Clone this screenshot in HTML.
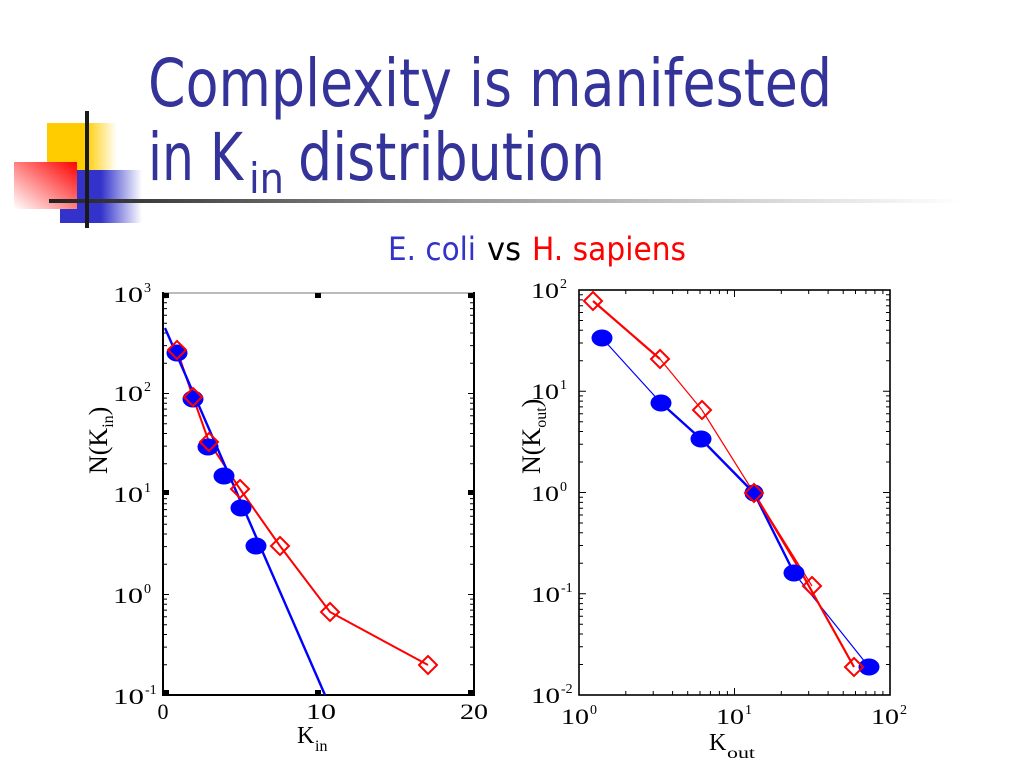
<!DOCTYPE html>
<html>
<head>
<meta charset="utf-8">
<style>
html,body{margin:0;padding:0;background:#fff;}
svg{display:block;}
</style>
</head>
<body>
<svg width="1024" height="768" viewBox="0 0 1024 768" xmlns="http://www.w3.org/2000/svg">
<defs>
  <linearGradient id="gy" x1="0" y1="0" x2="1" y2="0">
    <stop offset="0" stop-color="#ffcc00"/>
    <stop offset="0.55" stop-color="#ffcc00"/>
    <stop offset="1" stop-color="#ffcc00" stop-opacity="0"/>
  </linearGradient>
  <linearGradient id="gb" x1="0" y1="0" x2="1" y2="0">
    <stop offset="0" stop-color="#3333cc"/>
    <stop offset="0.5" stop-color="#3333cc"/>
    <stop offset="1" stop-color="#3333cc" stop-opacity="0"/>
  </linearGradient>
  <linearGradient id="gr" x1="1" y1="0" x2="0" y2="1">
    <stop offset="0" stop-color="#ff0000"/>
    <stop offset="0.5" stop-color="#ff8080"/>
    <stop offset="1" stop-color="#ffffff"/>
  </linearGradient>
  <linearGradient id="gl" x1="0" y1="0" x2="1" y2="0">
    <stop offset="0" stop-color="#222"/>
    <stop offset="0.45" stop-color="#999"/>
    <stop offset="0.85" stop-color="#e4e4e4"/>
    <stop offset="1" stop-color="#fff"/>
  </linearGradient>
</defs>

<!-- decoration -->
<rect x="47" y="123" width="70" height="47" fill="url(#gy)"/>
<rect x="60" y="170" width="82" height="53" fill="url(#gb)"/>
<rect x="14" y="162" width="63" height="47" fill="url(#gr)"/>
<rect x="49" y="199" width="915" height="4" fill="url(#gl)"/>
<rect x="85" y="111" width="4" height="117" fill="#1a1a1a"/>

<!-- title -->
<g font-family="'DejaVu Sans','Liberation Sans',sans-serif" fill="#333399">
  <text x="148" y="106" font-size="66" textLength="684" lengthAdjust="spacingAndGlyphs">Complexity is manifested</text>
  <text x="148" y="180" font-size="66" textLength="95" lengthAdjust="spacingAndGlyphs">in K</text>
  <text x="249" y="193" font-size="42" textLength="35" lengthAdjust="spacingAndGlyphs">in</text>
  <text x="298" y="180" font-size="66" textLength="307" lengthAdjust="spacingAndGlyphs">distribution</text>
</g>

<!-- subtitle -->
<g font-family="'DejaVu Sans','Liberation Sans',sans-serif" font-size="32">
  <text x="388" y="260" fill="#3333cc" textLength="88" lengthAdjust="spacingAndGlyphs">E. coli</text>
  <text x="487" y="260" fill="#000" textLength="34" lengthAdjust="spacingAndGlyphs">vs</text>
  <text x="532" y="260" fill="#ff0000" textLength="154" lengthAdjust="spacingAndGlyphs">H. sapiens</text>
</g>

<!-- ================= LEFT PLOT ================= -->
<g>
  <line x1="163" y1="293" x2="474" y2="293" stroke="#777" stroke-width="1"/>
  <line x1="163" y1="292" x2="163" y2="696" stroke="#000" stroke-width="2"/>
  <line x1="474" y1="292" x2="474" y2="696" stroke="#000" stroke-width="2"/>
  <line x1="162" y1="695" x2="475" y2="695" stroke="#000" stroke-width="2"/>
  <path stroke="#000" stroke-width="1" fill="none" d="
  M163 664.7h4M163 647.1h4M163 634.5h4M163 624.8h4M163 616.8h4M163 610.1h4M163 604.2h4M163 599.1h4
  M163 564.2h4M163 546.6h4M163 534.0h4M163 524.3h4M163 516.3h4M163 509.6h4M163 503.7h4M163 498.6h4
  M163 463.7h4M163 446.1h4M163 433.5h4M163 423.8h4M163 415.8h4M163 409.1h4M163 403.2h4M163 398.1h4
  M163 363.2h4M163 345.6h4M163 333.0h4M163 323.3h4M163 315.3h4M163 308.6h4M163 302.7h4M163 297.6h4
  M474 664.7h-4M474 647.1h-4M474 634.5h-4M474 624.8h-4M474 616.8h-4M474 610.1h-4M474 604.2h-4M474 599.1h-4
  M474 564.2h-4M474 546.6h-4M474 534.0h-4M474 524.3h-4M474 516.3h-4M474 509.6h-4M474 503.7h-4M474 498.6h-4
  M474 463.7h-4M474 446.1h-4M474 433.5h-4M474 423.8h-4M474 415.8h-4M474 409.1h-4M474 403.2h-4M474 398.1h-4
  M474 363.2h-4M474 345.6h-4M474 333.0h-4M474 323.3h-4M474 315.3h-4M474 308.6h-4M474 302.7h-4M474 297.6h-4
  M163 594.5h6M163 393.5h6M474 594.5h-6M474 393.5h-6"/>
  <g fill="#000">
    <rect x="163" y="293" width="6" height="5"/>
    <rect x="315" y="293" width="6" height="5"/>
    <rect x="468" y="293" width="6" height="5"/>
    <rect x="163" y="490" width="6" height="5"/>
    <rect x="468" y="490" width="6" height="5"/>
    <rect x="163" y="690" width="6" height="5"/>
    <rect x="315" y="690" width="6" height="5"/>
    <rect x="468" y="690" width="6" height="5"/>
  </g>
  <g font-family="'Liberation Serif',serif" fill="#000">
    <text x="113" y="302" font-size="22" textLength="30" lengthAdjust="spacingAndGlyphs">10</text>
    <text x="144" y="292" font-size="14">3</text>
    <text x="113" y="401" font-size="22" textLength="30" lengthAdjust="spacingAndGlyphs">10</text>
    <text x="144" y="391" font-size="14">2</text>
    <text x="113" y="502" font-size="22" textLength="30" lengthAdjust="spacingAndGlyphs">10</text>
    <text x="144" y="492" font-size="14">1</text>
    <text x="113" y="603" font-size="22" textLength="30" lengthAdjust="spacingAndGlyphs">10</text>
    <text x="144" y="593" font-size="14">0</text>
    <text x="113" y="704" font-size="22" textLength="31" lengthAdjust="spacingAndGlyphs">10</text>
    <text x="145" y="694" font-size="14">-1</text>
    <text x="163" y="719" font-size="22" text-anchor="middle">0</text>
    <text x="321" y="719" font-size="22" text-anchor="middle" textLength="30" lengthAdjust="spacingAndGlyphs">10</text>
    <text x="474" y="719" font-size="22" text-anchor="middle" textLength="28" lengthAdjust="spacingAndGlyphs">20</text>
    <text x="297" y="743" font-size="24">K</text>
    <text x="315" y="751" font-size="16">in</text>
    <text transform="translate(107,474) rotate(-90)" font-size="26">N(K<tspan font-size="16" dy="6">in</tspan><tspan dy="-6">)</tspan></text>
  </g>
  <polyline fill="none" stroke="#ff0000" stroke-width="2" points="177,350 193,397 209,442 240,489 280,546 330,612 428,665"/>
  <line x1="165" y1="328" x2="325" y2="695" stroke="#0000ff" stroke-width="2.4"/>
  <g fill="#0000ff">
    <ellipse cx="177" cy="353" rx="10.5" ry="8.5"/>
    <ellipse cx="193" cy="399" rx="10.5" ry="8.5"/>
    <ellipse cx="208" cy="447" rx="10.5" ry="8.5"/>
    <ellipse cx="224" cy="476" rx="10.5" ry="8.5"/>
    <ellipse cx="241" cy="508" rx="10.5" ry="8.5"/>
    <ellipse cx="256" cy="546" rx="10.5" ry="8.5"/>
  </g>
  <g fill="none" stroke="#ff0000" stroke-width="2">
    <polygon points="177,341 186,350 177,359 168,350"/>
    <polygon points="193,388 202,397 193,406 184,397"/>
    <polygon points="209,433 218,442 209,451 200,442"/>
    <polygon points="240,480 249,489 240,498 231,489"/>
    <polygon points="280,537 289,546 280,555 271,546"/>
    <polygon points="330,603 339,612 330,621 321,612"/>
    <polygon points="428,656 437,665 428,674 419,665"/>
  </g>
</g>

<!-- ================= RIGHT PLOT ================= -->
<g>
  <rect x="579" y="290" width="311" height="405" fill="none" stroke="#000" stroke-width="1.6"/>
  <path stroke="#000" stroke-width="1" fill="none" d="
  M579 664.5h4M579 646.7h4M579 634.0h4M579 624.2h4M579 616.2h4M579 609.4h4M579 603.6h4M579 598.4h4
  M579 563.3h4M579 545.5h4M579 532.8h4M579 523.0h4M579 515.0h4M579 508.2h4M579 502.4h4M579 497.2h4
  M579 462.0h4M579 444.2h4M579 431.5h4M579 421.7h4M579 413.7h4M579 406.9h4M579 401.1h4M579 395.9h4
  M579 360.8h4M579 343.0h4M579 330.3h4M579 320.5h4M579 312.5h4M579 305.7h4M579 299.9h4M579 294.7h4
  M890 664.5h-4M890 646.7h-4M890 634.0h-4M890 624.2h-4M890 616.2h-4M890 609.4h-4M890 603.6h-4M890 598.4h-4
  M890 563.3h-4M890 545.5h-4M890 532.8h-4M890 523.0h-4M890 515.0h-4M890 508.2h-4M890 502.4h-4M890 497.2h-4
  M890 462.0h-4M890 444.2h-4M890 431.5h-4M890 421.7h-4M890 413.7h-4M890 406.9h-4M890 401.1h-4M890 395.9h-4
  M890 360.8h-4M890 343.0h-4M890 330.3h-4M890 320.5h-4M890 312.5h-4M890 305.7h-4M890 299.9h-4M890 294.7h-4
  M579 593.75h7M579 492.5h7M579 391.25h7M890 593.75h-7M890 492.5h-7M890 391.25h-7
  M625.8 695v-4M653.2 695v-4M672.6 695v-4M687.7 695v-4M700.0 695v-4M710.4 695v-4M719.4 695v-4M727.4 695v-4
  M781.3 695v-4M808.7 695v-4M828.1 695v-4M843.2 695v-4M855.5 695v-4M865.9 695v-4M874.9 695v-4M882.9 695v-4
  M625.8 290v4M653.2 290v4M672.6 290v4M687.7 290v4M700.0 290v4M710.4 290v4M719.4 290v4M727.4 290v4
  M781.3 290v4M808.7 290v4M828.1 290v4M843.2 290v4M855.5 290v4M865.9 290v4M874.9 290v4M882.9 290v4
  M734.5 695v-7M734.5 290v7"/>
  <g font-family="'Liberation Serif',serif" fill="#000">
    <text x="531" y="298" font-size="22" textLength="28" lengthAdjust="spacingAndGlyphs">10</text>
    <text x="560" y="288" font-size="14">2</text>
    <text x="531" y="399" font-size="22" textLength="28" lengthAdjust="spacingAndGlyphs">10</text>
    <text x="560" y="389" font-size="14">1</text>
    <text x="531" y="501" font-size="22" textLength="28" lengthAdjust="spacingAndGlyphs">10</text>
    <text x="560" y="491" font-size="14">0</text>
    <text x="531" y="602" font-size="22" textLength="29" lengthAdjust="spacingAndGlyphs">10</text>
    <text x="561" y="592" font-size="14">-1</text>
    <text x="531" y="703" font-size="22" textLength="29" lengthAdjust="spacingAndGlyphs">10</text>
    <text x="561" y="693" font-size="14">-2</text>
    <text x="561" y="724" font-size="22" textLength="28" lengthAdjust="spacingAndGlyphs">10</text>
    <text x="590" y="714" font-size="14">0</text>
    <text x="716" y="724" font-size="22" textLength="28" lengthAdjust="spacingAndGlyphs">10</text>
    <text x="745" y="714" font-size="14">1</text>
    <text x="871" y="724" font-size="22" textLength="28" lengthAdjust="spacingAndGlyphs">10</text>
    <text x="900" y="714" font-size="14">2</text>
    <text x="709" y="750" font-size="24">K</text>
    <text x="727" y="758" font-size="16" textLength="28" lengthAdjust="spacingAndGlyphs">out</text>
    <text transform="translate(540,474) rotate(-90)" font-size="26">N(K<tspan font-size="16" dy="6">out</tspan><tspan dy="-6">)</tspan></text>
  </g>
  <polyline fill="none" stroke="#0000ff" stroke-width="1.2" points="602,338 661,403"/>
  <polyline fill="none" stroke="#0000ff" stroke-width="2.4" points="661,403 701,439 754,493 794,573"/>
  <polyline fill="none" stroke="#0000ff" stroke-width="1.2" points="794,573 869,667"/>
  <polyline fill="none" stroke="#ff0000" stroke-width="2.2" points="593,301 660,359"/>
  <polyline fill="none" stroke="#ff0000" stroke-width="1.2" points="660,359 702,410 754,493 812,586"/>
  <polyline fill="none" stroke="#ff0000" stroke-width="2.2" points="754,493 800,570 854,667"/>
  <g fill="#0000ff">
    <ellipse cx="602" cy="338" rx="10.5" ry="8.5"/>
    <ellipse cx="661" cy="403" rx="10.5" ry="8.5"/>
    <ellipse cx="701" cy="439" rx="10.5" ry="8.5"/>
    <ellipse cx="754" cy="493" rx="9.5" ry="8.5"/>
    <ellipse cx="794" cy="573" rx="10.5" ry="8.5"/>
    <ellipse cx="869" cy="667" rx="10.5" ry="8.5"/>
  </g>
  <g fill="none" stroke="#ff0000" stroke-width="2">
    <polygon points="593,292 602,301 593,310 584,301"/>
    <polygon points="660,350 669,359 660,368 651,359"/>
    <polygon points="702,401 711,410 702,419 693,410"/>
    <polygon points="754,484 763,493 754,502 745,493"/>
    <polygon points="812,577 821,586 812,595 803,586"/>
    <polygon points="854,658 863,667 854,676 845,667"/>
  </g>
</g>
</svg>
</body>
</html>
